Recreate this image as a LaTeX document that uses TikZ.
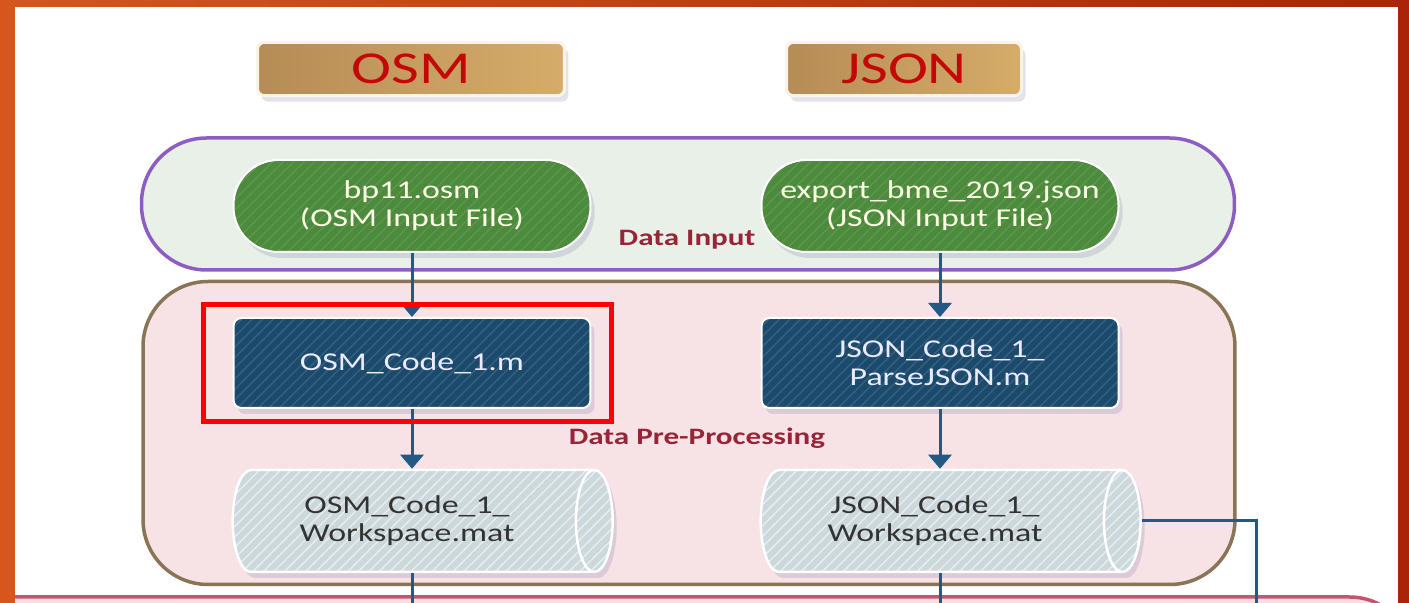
\documentclass[tikz,border=0pt]{standalone}
\usepackage{fontspec}
\setmainfont{Carlito}[FakeStretch=1.32]
\usetikzlibrary{shapes.geometric, arrows.meta, positioning, fit, backgrounds, patterns, shadows}

\definecolor{frameorange}{RGB}{214,86,28}
\definecolor{framered}{RGB}{170,36,10}
\definecolor{tanA}{RGB}{182,140,86}
\definecolor{tanB}{RGB}{214,172,106}
\definecolor{headred}{RGB}{196,8,8}
\definecolor{inputfill}{RGB}{232,240,232}
\definecolor{inputline}{RGB}{140,94,196}
\definecolor{filegreen}{RGB}{76,138,60}
\definecolor{zonered}{RGB}{152,36,56}
\definecolor{prefill}{RGB}{247,226,229}
\definecolor{preline}{RGB}{138,116,86}
\definecolor{codeblue}{RGB}{27,74,108}
\definecolor{flowblue}{RGB}{34,90,134}
\definecolor{wsgrey}{RGB}{204,216,219}
\definecolor{outline}{RGB}{194,86,110}
\definecolor{outfill}{RGB}{246,222,227}

\begin{document}
\begin{tikzpicture}[x=0.1mm, y=-0.1mm,
    glow/.style={drop shadow={shadow xshift=0.4mm, shadow yshift=-0.6mm, opacity=0.18, fill=blue!25!gray}},
    header/.style={draw=white!85!tanB, line width=0.3mm, rounded corners=0.7mm,
        left color=tanA, right color=tanB, text=headred, minimum height=4.8mm,
        font=\fontsize{13}{13}\selectfont, glow},
    zone/.style={line width=0.35mm, rounded corners=6.5mm},
    zonelabel/.style={text=zonered, font=\fontsize{6.7}{6.7}\selectfont\bfseries},
    infile/.style={glow, preaction={fill=filegreen},
        preaction={pattern=north east lines, pattern color=filegreen!90!white},
        draw=white, line width=0.2mm, rounded corners=4.5mm,
        minimum width=35.7mm, minimum height=9.2mm, text=white!90!yellow, align=center,
        font=\fontsize{7.3}{8}\selectfont},
    codebox/.style={glow, preaction={fill=codeblue},
        preaction={pattern=north east lines, pattern color=codeblue!88!white},
        draw=white, line width=0.2mm, rounded corners=0.8mm,
        minimum width=35.7mm, minimum height=9mm, text=white!92!blue, align=center,
        font=\fontsize{7.3}{8}\selectfont},
    workspace/.style={shape=cylinder, aspect=0.5, glow, preaction={fill=wsgrey},
        preaction={pattern=north east lines, pattern color=white!55!wsgrey},
        draw=white, line width=0.25mm,
        minimum width=10.2mm, minimum height=38mm, text=black!80, align=center,
        font=\fontsize{7.3}{8}\selectfont},
    flow/.style={draw=flowblue, line width=0.3mm, -{Triangle[length=1.4mm, width=2.3mm]}},
    link/.style={draw=flowblue, line width=0.3mm}
  ]
  \clip (0,0) rectangle (1409,603);
  % frame and page
  \shade[left color=frameorange, right color=framered] (0,0) rectangle (1409,603);
  \fill[white] (15,7) rectangle (1398,603);

  % output zone (only its top shows)
  \begin{scope}
    \clip (15,7) rectangle (1398,603);
    \node[zone, draw=outline, fill=outfill, minimum width=147.5mm, minimum height=20mm] (outzone) at (677,697) {};
  \end{scope}

  % headers
  \node[header, minimum width=30.7mm] (osm) at (411,69) {OSM};
  \node[header, minimum width=23.5mm] (json) at (904,69) {JSON};

  % zones
  \node[zone, draw=inputline, fill=inputfill, minimum width=109.3mm, minimum height=13.2mm] (inzone) at (688,204) {};
  \node[zone, draw=preline, fill=prefill, minimum width=109.2mm, minimum height=30.3mm] (prezone) at (689,433) {};
  \node[zonelabel] (inlabel) at (687,240) {Data Input};
  \node[zonelabel] (prelabel) at (697,438) {Data Pre-Processing};

  % input files
  \node[infile] (bp) at (412,206) {bp11.osm\\(OSM Input File)};
  \node[infile] (export) at (940,206) {export\_bme\_2019.json\\(JSON Input File)};

  % code
  \node[codebox] (osmcode) at (412,363) {OSM\_Code\_1.m};
  \node[codebox] (jsoncode) at (940,363) {JSON\_Code\_1\_\\ParseJSON.m};

  % workspaces
  \node[workspace] (osmws) at (407,521) {OSM\_Code\_1\_\\Workspace.mat};
  \node[workspace] (jsonws) at (935,521) {JSON\_Code\_1\_\\Workspace.mat};

  % connectors
  \foreach \a/\b in {bp/osmcode, export/jsoncode}
    \draw[flow] (\a) -- (\b);
  \draw[flow] (osmcode) -- (osmcode |- osmws.north);
  \draw[flow] (jsoncode) -- (jsoncode |- jsonws.north);
  \coordinate (osmdown) at (412,603);
  \coordinate (jsondown) at (940,603);
  \coordinate (jsonside) at (1256,603);
  \draw[link] (osmcode |- osmws.south) -- (osmdown);
  \draw[link] (jsoncode |- jsonws.south) -- (jsondown);
  \draw[link] (jsonws.east) -| (jsonside);

  % highlight
  \node[draw=red, line width=0.5mm, minimum width=40.9mm, minimum height=11.7mm] (focus) at (407.5,363.5) {};
\end{tikzpicture}
\end{document}
